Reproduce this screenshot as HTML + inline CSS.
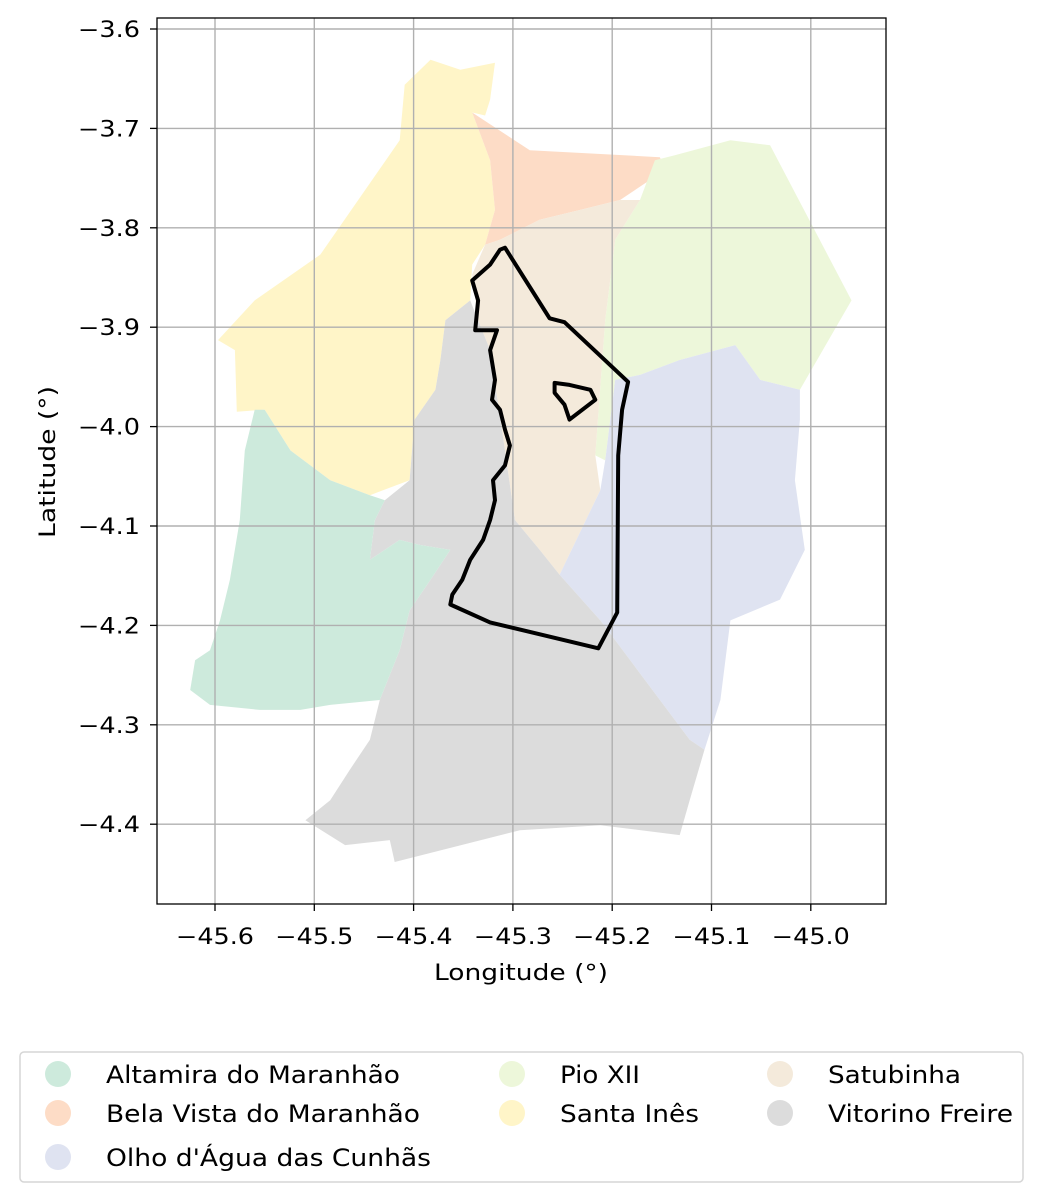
<!DOCTYPE html>
<html><head><meta charset="utf-8"><style>
body{margin:0;background:#fff;}
svg{display:block;font-family:"DejaVu Sans","Liberation Sans",sans-serif;}
</style></head><body>
<svg id="chart" width="1043" height="1202" viewBox="0 0 1043 1202" xmlns="http://www.w3.org/2000/svg">
<rect x="0" y="0" width="1043" height="1202" fill="#fff"/>
<g id="regions"></g>
<g id="grid"></g>
<g id="outline"></g>
<rect x="157" y="18" width="729" height="886" fill="none" stroke="#000" stroke-width="1.3"/>
<g id="ticks"></g>
<text x="434" y="980" font-size="22" textLength="174" lengthAdjust="spacingAndGlyphs">Longitude (°)</text>
<text transform="translate(55,538) rotate(-90)" font-size="22" textLength="152" lengthAdjust="spacingAndGlyphs">Latitude (°)</text>
<g>
<rect x="20" y="1052" width="1003" height="130" rx="4" fill="#fff" stroke="#d6d6d6" stroke-width="1.5"/>
<g id="legend-items"></g>
</g>
</svg>
<script>
const names=["Altamira do Maranhão","Bela Vista do Maranhão","Olho d'Água das Cunhãs","Pio XII","Santa Inês","Satubinha","Vitorino Freire"];
const colors=["#cdeadc","#fddcc6","#dfe3f1","#edf7da","#fff5c8","#f4eadb","#dcdcdc"];
const xTicks=[-45.6,-45.5,-45.4,-45.3,-45.2,-45.1,-45.0];
const yTicks=[-3.6,-3.7,-3.8,-3.9,-4.0,-4.1,-4.2,-4.3,-4.4];
const santaInes=[[-45.597,-3.913],[-45.560,-3.873],[-45.494,-3.827],[-45.414,-3.712],[-45.409,-3.656],[-45.383,-3.631],[-45.353,-3.641],[-45.318,-3.634],[-45.323,-3.671],[-45.328,-3.687],[-45.341,-3.684],[-45.323,-3.732],[-45.318,-3.782],[-45.328,-3.817],[-45.341,-3.837],[-45.343,-3.873],[-45.368,-3.893],[-45.373,-3.933],[-45.378,-3.963],[-45.399,-3.993],[-45.404,-4.054],[-45.444,-4.069],[-45.484,-4.054],[-45.524,-4.024],[-45.550,-3.983],[-45.578,-3.985],[-45.580,-3.923]];
const belaVista=[[-45.341,-3.684],[-45.283,-3.722],[-45.152,-3.729],[-45.147,-3.742],[-45.192,-3.772],[-45.232,-3.782],[-45.273,-3.792],[-45.313,-3.812],[-45.328,-3.817],[-45.318,-3.782],[-45.323,-3.732]];
const pioXII=[[-45.157,-3.732],[-45.137,-3.727],[-45.081,-3.712],[-45.041,-3.717],[-44.959,-3.873],[-45.011,-3.963],[-45.051,-3.953],[-45.076,-3.918],[-45.132,-3.933],[-45.172,-3.948],[-45.197,-3.953],[-45.207,-4.034],[-45.217,-4.029],[-45.207,-3.893],[-45.197,-3.812],[-45.172,-3.772]];
const satubinha=[[-45.313,-3.812],[-45.273,-3.792],[-45.232,-3.782],[-45.192,-3.772],[-45.172,-3.772],[-45.197,-3.812],[-45.207,-3.893],[-45.217,-4.029],[-45.212,-4.064],[-45.253,-4.149],[-45.273,-4.124],[-45.298,-4.094],[-45.308,-4.024],[-45.323,-3.923],[-45.335,-3.893],[-45.341,-3.847],[-45.328,-3.817]];
const olhoDagua=[[-45.212,-4.064],[-45.207,-4.034],[-45.197,-3.953],[-45.172,-3.948],[-45.132,-3.933],[-45.076,-3.918],[-45.051,-3.953],[-45.011,-3.963],[-45.011,-3.993],[-45.016,-4.054],[-45.006,-4.124],[-45.031,-4.174],[-45.081,-4.195],[-45.091,-4.275],[-45.107,-4.325],[-45.122,-4.315],[-45.212,-4.195],[-45.253,-4.149]];
const vitorino=[[-45.335,-3.893],[-45.323,-3.923],[-45.308,-4.024],[-45.298,-4.094],[-45.273,-4.124],[-45.253,-4.149],[-45.212,-4.195],[-45.122,-4.315],[-45.107,-4.325],[-45.122,-4.376],[-45.132,-4.411],[-45.212,-4.401],[-45.293,-4.406],[-45.419,-4.438],[-45.424,-4.416],[-45.469,-4.421],[-45.509,-4.396],[-45.484,-4.376],[-45.464,-4.345],[-45.444,-4.315],[-45.434,-4.275],[-45.414,-4.225],[-45.404,-4.185],[-45.383,-4.154],[-45.363,-4.124],[-45.394,-4.119],[-45.414,-4.114],[-45.444,-4.134],[-45.439,-4.094],[-45.429,-4.074],[-45.404,-4.054],[-45.399,-3.993],[-45.378,-3.963],[-45.373,-3.933],[-45.368,-3.893],[-45.343,-3.873]];
const altamira=[[-45.560,-3.983],[-45.550,-3.983],[-45.524,-4.024],[-45.484,-4.054],[-45.444,-4.069],[-45.429,-4.074],[-45.439,-4.094],[-45.444,-4.134],[-45.414,-4.114],[-45.394,-4.119],[-45.363,-4.124],[-45.383,-4.154],[-45.404,-4.185],[-45.414,-4.225],[-45.434,-4.275],[-45.484,-4.280],[-45.514,-4.285],[-45.555,-4.285],[-45.605,-4.280],[-45.625,-4.265],[-45.620,-4.235],[-45.605,-4.225],[-45.595,-4.195],[-45.585,-4.154],[-45.575,-4.094],[-45.570,-4.024]];
const outlineOuter=[[-45.308,-3.820],[-45.263,-3.891],[-45.248,-3.895],[-45.184,-3.955],[-45.190,-3.983],[-45.194,-4.029],[-45.195,-4.187],[-45.214,-4.223],[-45.323,-4.197],[-45.363,-4.179],[-45.361,-4.169],[-45.351,-4.154],[-45.343,-4.134],[-45.330,-4.114],[-45.323,-4.094],[-45.318,-4.074],[-45.320,-4.054],[-45.308,-4.039],[-45.303,-4.019],[-45.308,-4.003],[-45.313,-3.983],[-45.321,-3.973],[-45.318,-3.953],[-45.323,-3.923],[-45.316,-3.903],[-45.338,-3.903],[-45.335,-3.873],[-45.341,-3.853],[-45.323,-3.837],[-45.313,-3.822]];
const outlineHole=[[-45.258,-3.956],[-45.243,-3.958],[-45.222,-3.963],[-45.217,-3.973],[-45.243,-3.993],[-45.248,-3.978],[-45.258,-3.966]];
const polygons=[altamira,belaVista,olhoDagua,pioXII,santaInes,satubinha,vitorino];
const drawOrder=[4,1,3,5,2,6,0];

const NS="http://www.w3.org/2000/svg";
function xs(lon){return 215+(lon+45.6)*993;}
function ys(lat){return 29+(-3.6-lat)*994;}
function pts(a){return a.map(p=>xs(p[0]).toFixed(1)+","+ys(p[1]).toFixed(1)).join(" ");}
function mk(tag,attrs,parent){const e=document.createElementNS(NS,tag);for(const k in attrs)e.setAttribute(k,attrs[k]);parent.appendChild(e);return e;}

const reg=document.getElementById('regions');
drawOrder.forEach(i=>{
  const p=mk('polygon',{points:pts(polygons[i]),fill:colors[i]},reg);
  
  
});
const grid=document.getElementById('grid');
const ticks=document.getElementById('ticks');
xTicks.forEach(v=>{
  const x=xs(v);
  const l=mk('line',{x1:x,x2:x,y1:18,y2:904,stroke:'#b0b0b0','stroke-width':1.4},grid);
  
  
  mk('line',{x1:x,x2:x,y1:904,y2:911,stroke:'#000','stroke-width':1.3},ticks);
  const t=mk('text',{x:x-39,y:944,'font-size':22,textLength:78,lengthAdjust:'spacingAndGlyphs'},ticks);
  t.textContent=(v.toFixed(1)).replace('-','\u2212');
  
  
});
yTicks.forEach(v=>{
  const y=ys(v);
  const l=mk('line',{x1:157,x2:886,y1:y,y2:y,stroke:'#b0b0b0','stroke-width':1.4},grid);
  
  
  mk('line',{x1:150,x2:157,y1:y,y2:y,stroke:'#000','stroke-width':1.3},ticks);
  const t=mk('text',{x:78,y:y+8,'font-size':22,textLength:62,lengthAdjust:'spacingAndGlyphs'},ticks);
  t.textContent=(v.toFixed(1)).replace('-','\u2212');
  
  
});
const ol=document.getElementById('outline');
[outlineOuter,outlineHole].forEach((a,k)=>{
  const p=mk('polygon',{points:pts(a),fill:'none',stroke:'#000','stroke-width':4,'stroke-linejoin':'round'},ol);
  
  
});
const leg=document.getElementById('legend-items');
const colX=[58,512,780], rowY=[1074,1113,1157];
const labelW=[294,314,325,80,139,133,185];
const order=[[0,0,0],[1,0,1],[2,0,2],[3,1,0],[4,1,1],[5,2,0],[6,2,1]];
order.forEach(o=>{
  const i=o[0],cx=colX[o[1]],cy=rowY[o[2]];
  const g=mk('g',{},leg);
  
  
  mk('circle',{cx:cx,cy:cy,r:13,fill:colors[i]},g);
  const t=mk('text',{x:cx+48,y:cy+9,'font-size':24,textLength:labelW[i],lengthAdjust:'spacingAndGlyphs'},g);
  t.textContent=names[i];
});
</script>
</body></html>
